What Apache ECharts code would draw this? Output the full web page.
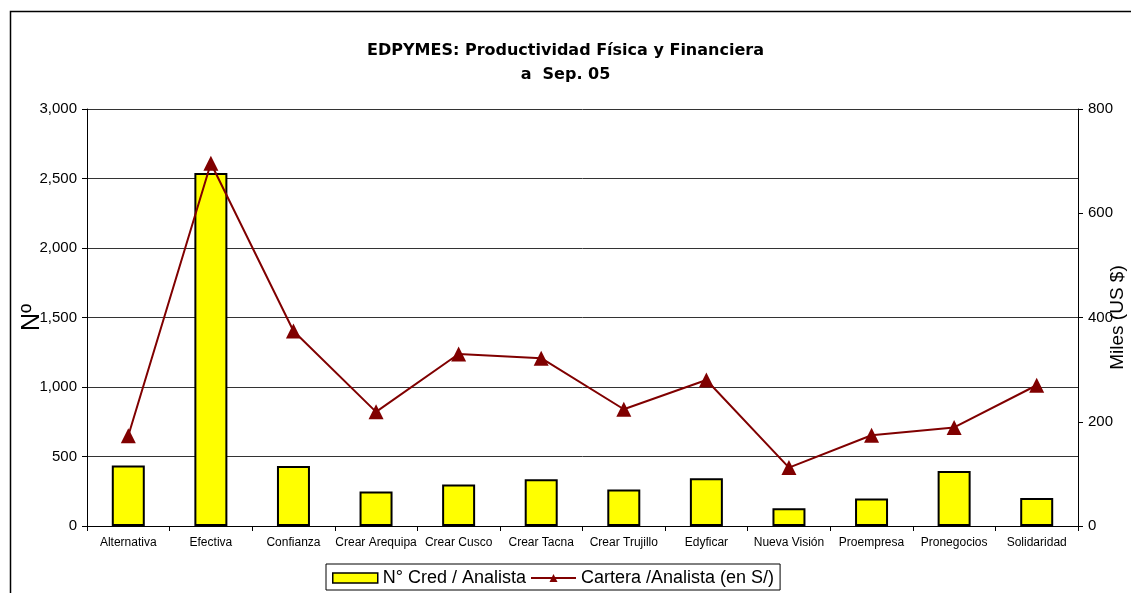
<!DOCTYPE html>
<html><head><meta charset="utf-8">
<script src="https://cdn.jsdelivr.net/npm/echarts@6/dist/echarts.min.js"></script>
<style>html,body{margin:0;padding:0;background:#fff}#c{width:1131px;height:593px}</style>
</head><body><div id="c"></div>
<script>
const categories = ['Alternativa','Efectiva','Confianza','Crear Arequipa','Crear Cusco','Crear Tacna','Crear Trujillo','Edyficar','Nueva Visión','Proempresa','Pronegocios','Solidaridad'];
const credPorAnalista = [435, 2540, 432, 248, 298, 337, 262, 344, 128, 198, 395, 201];
const carteraPorAnalista = [173, 696, 374, 219, 330, 322, 224, 280, 112, 174, 189, 270];
const leftTicks = [0, 3000, 500];
const rightTicks = [0, 800, 200];

const chart = echarts.init(document.getElementById('c'));
const F = 'Liberation Sans, Arial, sans-serif';
chart.setOption({
  animation: false,
  textStyle: {fontFamily: F},
  graphic: [{type:'rect', left: 8, top: 9, shape:{width:1200, height:700}, style:{fill:'none', stroke:'#000', lineWidth:1.5}, silent:true}],
  title: {
    text: 'EDPYMES: Productividad Física y Financiera\na  Sep. 05',
    left: 'center', top: 34,
    textStyle: {fontFamily: 'DejaVu Sans, sans-serif', fontWeight: 'bold', fontSize: 16, lineHeight: 24, color: '#000'}
  },
  grid: {left: 87, right: 53, top: 109, bottom: 67, outerBoundsMode: 'none', containLabel: false},
  legend: {
    bottom: 3, left: 326,
    borderColor: '#000', borderWidth: 1, padding: [5, 6, 3, 6],
    itemGap: 4, itemWidth: 45, itemHeight: 10,
    textStyle: {fontFamily: F, fontSize: 18, color: '#000'},
    data: [
      {name: 'N° Cred / Analista', icon: 'rect', itemStyle: {color: '#ffff00', borderColor: '#000', borderWidth: 1.5}},
      {name: 'Cartera /Analista (en S/)'}
    ]
  },
  xAxis: {
    type: 'category', data: categories,
    axisLine: {lineStyle: {color: '#000'}},
    axisTick: {show: true, alignWithLabel: false, length: 5, lineStyle:{color:'#000'}},
    axisLabel: {fontFamily: F, fontSize: 12, color: '#000', interval: 0, margin: 11}
  },
  yAxis: [{
    type: 'value', min: leftTicks[0], max: leftTicks[1], interval: leftTicks[2],
    name: 'Nº', nameLocation: 'middle', nameGap: 42, nameRotate: 90, nameMoveOverlap: false,
    nameTextStyle: {fontFamily: F, fontSize: 25, color: '#000'},
    axisLine: {show: true, lineStyle: {color: '#000'}},
    axisTick: {show: true, length: 5, lineStyle:{color:'#000'}},
    axisLabel: {fontFamily: F, fontSize: 15, color: '#000', margin: 10,
      formatter: v => v.toLocaleString('en-US')},
    splitLine: {show: true, lineStyle: {color: '#333', width: 1}}
  }, {
    type: 'value', min: rightTicks[0], max: rightTicks[1], interval: rightTicks[2],
    name: 'Miles (US $)', nameLocation: 'middle', nameGap: 30, nameRotate: 90, nameMoveOverlap: false,
    nameTextStyle: {fontFamily: F, fontSize: 19, color: '#000'},
    axisLine: {show: true, lineStyle: {color: '#000'}},
    axisTick: {show: true, length: 5, lineStyle:{color:'#000'}},
    axisLabel: {fontFamily: F, fontSize: 15, color: '#000', margin: 10},
    splitLine: {show: false}
  }],
  series: [{
    name: 'N° Cred / Analista', type: 'bar', data: credPorAnalista, barWidth: 33,
    itemStyle: {color: '#ffff00', borderColor: '#000', borderWidth: 2}
  }, {
    name: 'Cartera /Analista (en S/)', type: 'line', yAxisIndex: 1, data: carteraPorAnalista,
    symbol: 'triangle', symbolSize: 15,
    lineStyle: {color: '#800000', width: 2},
    itemStyle: {color: '#800000'}
  }]
});
</script></body></html>
